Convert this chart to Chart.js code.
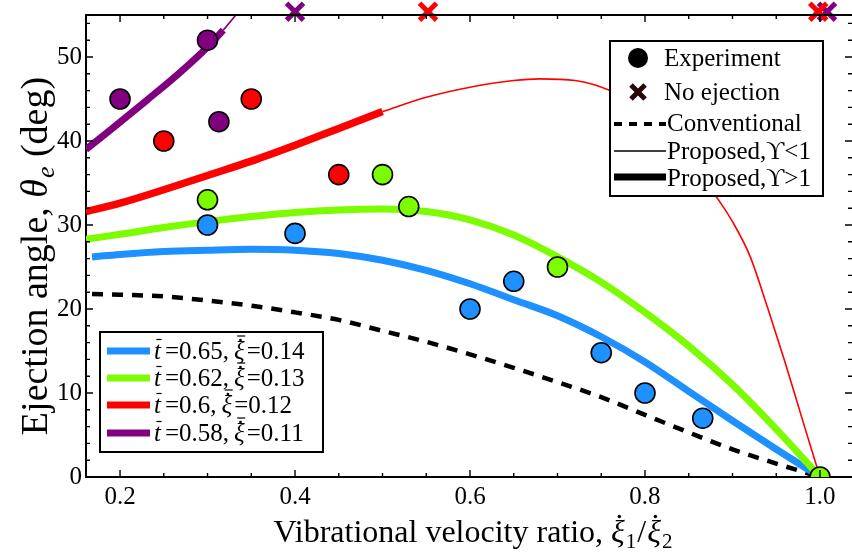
<!DOCTYPE html>
<html><head><meta charset="utf-8">
<script src="https://cdn.jsdelivr.net/npm/chart.js@4"></script>
<style>html,body{margin:0;padding:0;background:#fff;}canvas{display:block}</style>
</head><body>
<canvas id="c" width="852" height="558"></canvas>
<script>
// ---------------- data ----------------
const xTickValues = [0.2, 0.4, 0.6, 0.8, 1.0];
const yTickValues = [0, 10, 20, 30, 40, 50];

const expBlueX = [0.3, 0.4, 0.6, 0.65, 0.75, 0.8, 0.866];
const expBlueY = [30, 29, 20, 23.3, 14.8, 10, 7];
const expGreenX = [0.3, 0.5, 0.53, 0.7, 1.0];
const expGreenY = [33, 36, 32.2, 25, 0];
const expRedX = [0.25, 0.35, 0.45];
const expRedY = [40, 45, 36];
const expPurpleX = [0.2, 0.3, 0.313];
const expPurpleY = [45, 52, 42.3];

const noEjRedX = [0.552, 0.998];
const noEjRedY = [55.4, 55.4];
const noEjPurpleX = [0.4, 1.008];
const noEjPurpleY = [55.4, 55.4];

const convX = [0.168,0.2,0.25,0.3,0.35,0.4,0.45,0.5,0.55,0.6,0.65,0.7,0.75,0.8,0.85,0.9,0.95,1.0];
const convY = [21.8,21.7,21.5,21.0,20.4,19.6,18.7,17.4,16.1,14.6,13.0,11.3,9.5,7.4,5.3,3.3,1.6,0];

const blueX = [0.168,0.2,0.25,0.3,0.35,0.4,0.45,0.5,0.55,0.6,0.65,0.7,0.75,0.8,0.85,0.9,0.95,1.0];
const blueY = [26.2,26.5,26.85,27.0,27.1,27.0,26.6,25.8,24.6,23.0,21.1,19.2,16.7,13.7,10.2,6.7,3.3,0];

const greenX = [0.161,0.2,0.25,0.3,0.35,0.4,0.45,0.5,0.55,0.6,0.65,0.7,0.75,0.8,0.85,0.9,0.95,1.0];
const greenY = [28.3,28.9,29.7,30.4,31.0,31.5,31.8,31.9,31.6,30.6,28.8,26.2,23.2,19.6,15.6,11.0,5.7,0];

const redThickX = [0.161,0.2,0.25,0.3,0.35,0.4,0.45,0.5];
const redThickY = [31.6,32.6,34.2,35.9,37.6,39.5,41.5,43.5];
const redThinX = [0.5,0.55,0.6,0.65,0.68,0.72,0.76,0.8,0.84,0.88,0.9,0.92,0.94,0.96,0.98,1.0];
const redThinY = [43.5,45.2,46.4,47.2,47.4,47.2,46.0,43.6,39.6,33.6,30.4,26.3,20.2,13.7,6.8,0];

const purpleThickX = [0.161,0.19,0.23,0.27,0.3,0.318];
const purpleThickY = [39.0,41.4,44.8,48.3,51.2,53.2];
const purpleThinX = [0.318,0.334];
const purpleThinY = [53.2,55.2];

const seriesLabels = [
  {t:'0.65', xi:'0.14'}, {t:'0.62', xi:'0.13'}, {t:'0.6', xi:'0.12'}, {t:'0.58', xi:'0.11'}
];
const legendMain = ['Experiment', 'No ejection', 'Conventional', 'Proposed,\u03D2<1', 'Proposed,\u03D2>1'];
const xTitleMain = 'Vibrational velocity ratio, ';
const yTitleMain = 'Ejection angle, ';
const yTitleUnit = ' (deg)';

// ---------------- style ----------------
const BLUE = '#1E90FF', GREEN = '#7CFC00', RED = '#FF0000', PURPLE = '#800080', DARKX = '#2b0808';
const SERIF = '"Liberation Serif", "Times New Roman", "DejaVu Serif", serif';
const F = (s, it) => (it ? 'italic ' : '') + s + 'px ' + SERIF;

const pts = (xs, ys) => xs.map((x, i) => ({x: x, y: ys[i]}));

function curve(xs, ys, color, w, dash) {
  return {data: pts(xs, ys), showLine: true, borderColor: color, borderWidth: w,
    borderDash: dash || [], pointRadius: 0, pointHoverRadius: 0,
    cubicInterpolationMode: 'monotone', borderCapStyle: 'butt', borderJoinStyle: 'round'};
}
function dots(xs, ys, color) {
  return {data: pts(xs, ys), showLine: false, pointRadius: 10, pointHoverRadius: 10,
    backgroundColor: color, borderColor: '#000', pointBorderWidth: 1.6, borderWidth: 1.6};
}
function crosses(xs, ys, color) {
  return {data: pts(xs, ys), showLine: false, pointStyle: 'crossRot', pointRadius: 12,
    pointHoverRadius: 12, borderColor: color, pointBorderWidth: 5, borderWidth: 5, clip: false};
}

const datasets = [
  crosses(noEjRedX, noEjRedY, RED),
  crosses(noEjPurpleX, noEjPurpleY, PURPLE),
  dots(expBlueX, expBlueY, BLUE),
  dots(expGreenX, expGreenY, GREEN),
  dots(expRedX, expRedY, RED),
  dots(expPurpleX, expPurpleY, PURPLE),
  curve(redThinX, redThinY, RED, 1.6),
  curve(purpleThinX, purpleThinY, PURPLE, 1.6),
  curve(purpleThickX, purpleThickY, PURPLE, 7),
  curve(redThickX, redThickY, RED, 7.5),
  curve(greenX, greenY, GREEN, 7),
  curve(blueX, blueY, BLUE, 7),
  curve(convX, convY, '#000', 4.5, [11, 9])
];

// rich text helper
function partsWidth(ctx, parts) {
  let w = 0;
  for (const p of parts) { ctx.font = p.font; w += ctx.measureText(p.text).width + (p.gap || 0); }
  return w;
}
function drawParts(ctx, parts, x0, y0) {
  let x = x0;
  for (const p of parts) {
    ctx.font = p.font;
    const w = ctx.measureText(p.text).width;
    ctx.fillText(p.text, x, y0 + (p.dy || 0));
    const size = p.size || 24;
    if (p.bar) {
      ctx.beginPath(); ctx.lineWidth = 1.2;
      ctx.moveTo(x + w * 0.2 + 1, y0 - size * p.bar); ctx.lineTo(x + w * 0.95 + 1, y0 - size * p.bar); ctx.stroke();
    }
    if (p.dot) {
      ctx.beginPath(); ctx.arc(x + w * 0.6, y0 - size * p.dot, size * 0.055, 0, Math.PI * 2); ctx.fill();
    }
    x += w + (p.gap || 0);
  }
}

const framePlugin = {
  id: 'frame',
  afterDatasetsDraw(chart) {
    const ctx = chart.ctx, a = chart.chartArea, xs = chart.scales.x, ys = chart.scales.y;
    ctx.save();
    ctx.strokeStyle = '#000'; ctx.lineWidth = 2;
    ctx.beginPath(); ctx.moveTo(a.left, a.top); ctx.lineTo(a.right, a.top); ctx.stroke();
    ctx.lineWidth = 1.4;
    const major = 7, minor = 4;
    for (let k = 4; k <= 20; k++) {
      const v = k * 0.05, px = xs.getPixelForValue(v);
      const len = (k % 4 === 0) ? major : minor;
      ctx.beginPath();
      ctx.moveTo(px, a.bottom); ctx.lineTo(px, a.bottom - len);
      ctx.moveTo(px, a.top); ctx.lineTo(px, a.top + len);
      ctx.stroke();
    }
    for (let k = 0; k <= 27; k++) {
      const v = k * 2, py = ys.getPixelForValue(v);
      const len = (k % 5 === 0) ? major : minor;
      ctx.beginPath();
      ctx.moveTo(a.left, py); ctx.lineTo(a.left + len, py);
      ctx.moveTo(a.right, py); ctx.lineTo(a.right - len, py);
      ctx.stroke();
    }
    ctx.restore();
  },
  afterDraw(chart) {
    const ctx = chart.ctx;
    ctx.save();
    ctx.fillStyle = '#000'; ctx.strokeStyle = '#000';
    ctx.textBaseline = 'alphabetic'; ctx.textAlign = 'left';

    // ---- legend top-right ----
    ctx.fillStyle = '#fff'; ctx.fillRect(610, 41, 213, 155);
    ctx.lineWidth = 2; ctx.strokeRect(610, 41, 213, 155);
    ctx.fillStyle = '#000';
    ctx.beginPath(); ctx.arc(638, 58, 10, 0, Math.PI * 2); ctx.fill();
    ctx.strokeStyle = DARKX; ctx.lineWidth = 5; ctx.lineCap = 'butt';
    ctx.beginPath(); ctx.moveTo(631, 85); ctx.lineTo(645, 99); ctx.moveTo(645, 85); ctx.lineTo(631, 99); ctx.stroke();
    ctx.strokeStyle = '#000';
    ctx.lineWidth = 4; ctx.setLineDash([8, 7]);
    ctx.beginPath(); ctx.moveTo(614, 124); ctx.lineTo(666, 124); ctx.stroke();
    ctx.setLineDash([]);
    ctx.lineWidth = 1.5; ctx.beginPath(); ctx.moveTo(614, 151); ctx.lineTo(666, 151); ctx.stroke();
    ctx.lineWidth = 7; ctx.beginPath(); ctx.moveTo(614, 177); ctx.lineTo(666, 177); ctx.stroke();
    ctx.font = F(25);
    const lx = [664, 664, 667, 667, 667], ly = [66, 100, 131, 159, 186];
    legendMain.forEach((t, i) => ctx.fillText(t, lx[i], ly[i]));

    // ---- legend bottom-left ----
    ctx.fillStyle = '#fff'; ctx.fillRect(100, 332, 223, 120);
    ctx.lineWidth = 2; ctx.strokeStyle = '#000'; ctx.strokeRect(100, 332, 223, 120);
    ctx.fillStyle = '#000';
    const cols = [BLUE, GREEN, RED, PURPLE], rows = [351, 378, 405, 433];
    seriesLabels.forEach((s, i) => {
      ctx.strokeStyle = cols[i]; ctx.lineWidth = 7;
      ctx.beginPath(); ctx.moveTo(107, rows[i]); ctx.lineTo(150, rows[i]); ctx.stroke();
      ctx.strokeStyle = '#000';
      const base = rows[i] + 8;
      drawParts(ctx, [
        {text: 't', font: F(25, true), size: 25, bar: 0.78, gap: 4},
        {text: '=' + s.t + ',', font: F(25), gap: 5},
        {text: '\u03BE', font: F(25, true), size: 25, bar: 0.92, dot: 0.76, gap: 2},
        {text: '=' + s.xi, font: F(25)}
      ], 154, base);
    });

    // ---- x axis title ----
    const xp = [
      {text: xTitleMain, font: F(32)},
      {text: '\u03BE', font: F(32, true), size: 32, dot: 0.8, gap: 1},
      {text: '1', font: F(21), dy: 6, gap: 1},
      {text: '/', font: F(32), gap: 1},
      {text: '\u03BE', font: F(32, true), size: 32, dot: 0.8, gap: 1},
      {text: '2', font: F(21), dy: 6}
    ];
    const xw = partsWidth(ctx, xp);
    drawParts(ctx, xp, 473 - xw / 2, 542);

    // ---- y axis title ----
    const yp = [
      {text: yTitleMain, font: F(38)},
      {text: '\u03B8', font: F(38, true), gap: 1},
      {text: 'e', font: F(26, true), dy: 7},
      {text: yTitleUnit, font: F(38)}
    ];
    const yw = partsWidth(ctx, yp);
    ctx.translate(47, 256); ctx.rotate(-Math.PI / 2);
    drawParts(ctx, yp, -yw / 2, 0);
    ctx.restore();
  }
};

new Chart(document.getElementById('c'), {
  type: 'scatter',
  data: {datasets: datasets},
  options: {
    responsive: false, animation: false, devicePixelRatio: 1,
    layout: {autoPadding: false, padding: {top: 15, right: 0, left: 0, bottom: 0}},
    plugins: {legend: {display: false}, tooltip: {enabled: false}},
    events: [],
    scales: {
      x: {type: 'linear', min: 0.1611, max: 1.0366,
        grid: {display: false, drawTicks: false},
        border: {display: true, color: '#000', width: 2},
        ticks: {color: '#000', font: {family: SERIF, size: 25, lineHeight: 1}, padding: 8,
          autoSkip: false, maxRotation: 0, callback: v => Number(v).toFixed(1)},
        afterBuildTicks: s => { s.ticks = xTickValues.map(v => ({value: v})); },
        afterFit: s => { s.height = 81; s.paddingLeft = 0; s.paddingRight = 0; }
      },
      y: {type: 'linear', min: 0, max: 55,
        grid: {display: false, drawTicks: false},
        border: {display: true, color: '#000', width: 2},
        ticks: {color: '#000', font: {family: SERIF, size: 25, lineHeight: 1}, padding: 4,
          autoSkip: false, callback: v => String(v)},
        afterBuildTicks: s => { s.ticks = yTickValues.map(v => ({value: v})); },
        afterFit: s => { s.width = 86; s.paddingTop = 0; s.paddingBottom = 0; }
      }
    }
  },
  plugins: [framePlugin]
});
</script>
</body></html>
